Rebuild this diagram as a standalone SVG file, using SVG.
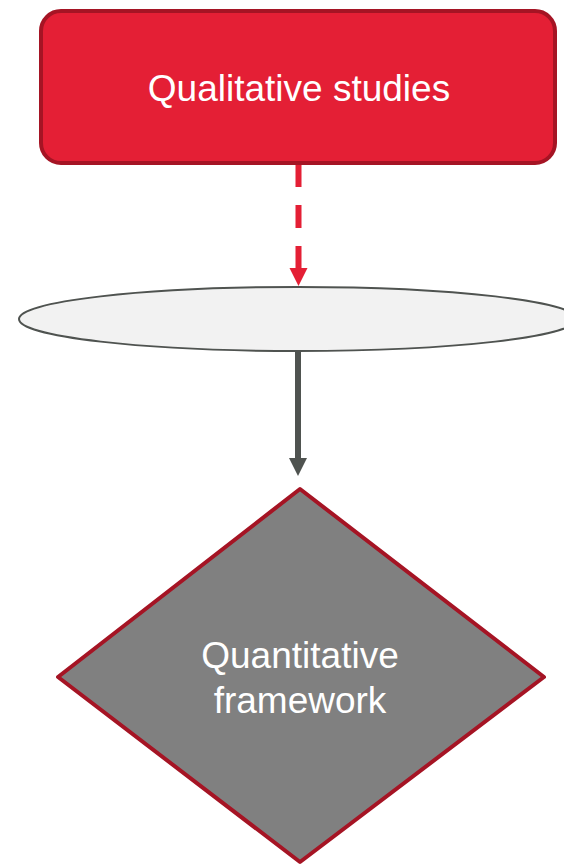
<svg xmlns="http://www.w3.org/2000/svg" width="564" height="865" viewBox="0 0 564 865">
<style>
.lbl{font-family:"Liberation Sans",Arial,sans-serif;font-size:37px;fill:#ffffff;text-anchor:middle}
</style>
<defs>
<marker id="ahRed" markerUnits="userSpaceOnUse" markerWidth="20" markerHeight="20" refX="0" refY="9" orient="auto">
<path d="M0,0 L18,9 L0,18 Z" fill="#e41f35"/>
</marker>
<marker id="ahGray" markerUnits="userSpaceOnUse" markerWidth="20" markerHeight="20" refX="0" refY="9" orient="auto">
<path d="M0,0 L18,9 L0,18 Z" fill="#4f5350"/>
</marker>
</defs>
<g id="connectors">
<line x1="298.5" y1="164" x2="298.5" y2="268" stroke="#e41f35" stroke-width="6" stroke-dasharray="23,18" marker-end="url(#ahRed)"/>
<line x1="298" y1="351" x2="298" y2="458" stroke="#4f5350" stroke-width="6" marker-end="url(#ahGray)"/>
</g>
<g id="qualitative">
<rect x="41" y="11" width="514" height="152" rx="20" ry="20" fill="#e41f35" stroke="#a51424" stroke-width="4"/>
<text class="lbl" x="299" y="101">Qualitative studies</text>
</g>
<g id="ellipse">
<ellipse cx="298" cy="319" rx="279" ry="32" fill="#f2f2f2" stroke="#4f5350" stroke-width="2"/>
</g>
<g id="quantitative">
<polygon points="300,489 544,677 300,862 58,677" fill="#808080" stroke="#a51424" stroke-width="4" stroke-linejoin="round"/>
<text class="lbl" x="300" y="668">Quantitative</text>
<text class="lbl" x="300" y="713">framework</text>
</g>
</svg>
